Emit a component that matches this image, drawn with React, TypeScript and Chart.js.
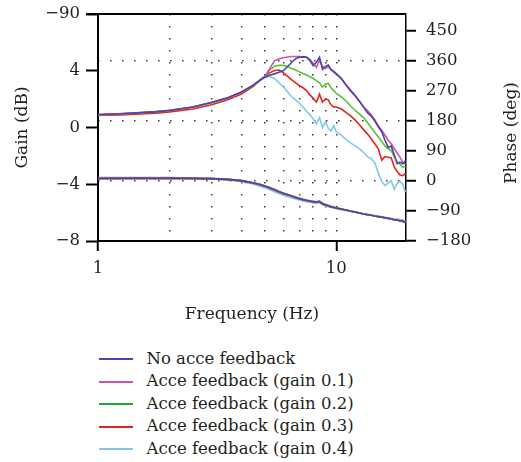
import React, { useEffect, useRef } from "react";
import { Chart, registerables } from "chart.js";

Chart.register(...registerables);

// Frequency (Hz)
const FREQ = [
  1, 1.25, 1.5, 1.75, 2, 2.5, 3, 3.5, 4, 4.5, 4.75,
  5, 5.25, 5.5, 5.75, 6, 6.25, 6.5, 6.75, 7, 7.25, 7.5, 7.75, 8, 8.25, 8.5, 8.75, 9, 9.25, 9.5, 9.75, 10,
  10.5, 11, 11.5, 12, 12.5, 13, 13.5, 14, 14.5, 15, 15.5, 16, 16.5, 17, 17.5, 18, 18.5, 19, 19.5,
];

// Gain (dB)
const GAIN_NO = [
  0.92, 0.97, 1.05, 1.1, 1.22, 1.45, 1.78, 2.1, 2.5, 3.0, 3.3,
  3.55, 3.68, 3.78, 3.9, 4.02, 4.3, 4.6, 4.85, 4.95, 4.98, 4.95, 4.7, 4.35, 4.6, 4.95, 4.1, 4.3, 4.4, 4.1, 3.95, 3.8,
  3.45, 3.0, 2.6, 2.25, 1.85, 1.45, 1.05, 0.8, 0.45, 0.05, -0.3, -0.9, -1.4, -1.3, -1.95, -2.55, -2.45, -2.55, -2.35,
];
const GAIN_01 = [
  0.9, 0.98, 1.03, 1.12, 1.2, 1.44, 1.76, 2.08, 2.48, 3.0, 3.3,
  3.55, 4.15, 4.7, 4.85, 4.92, 4.97, 5.0, 5.0, 5.0, 4.98, 4.95, 4.8, 4.5, 4.25, 4.75, 4.3, 4.15, 4.3, 4.05, 3.9, 3.75,
  3.45, 2.95, 2.55, 2.2, 1.85, 1.45, 1.2, 0.9, 0.55, 0.1, -0.2, -0.55, -0.9, -1.15, -1.5, -1.8, -2.1, -2.45, -2.6,
];
const GAIN_02 = [
  0.9, 0.96, 1.03, 1.1, 1.2, 1.43, 1.75, 2.07, 2.47, 2.98, 3.3,
  3.6, 4.05, 4.32, 4.38, 4.38, 4.3, 4.15, 4.05, 3.92, 3.8, 3.7, 3.58, 3.45, 3.3, 3.15, 2.85, 3.05, 3.1, 2.8, 2.6, 2.4,
  2.15, 1.85, 1.5, 1.2, 0.95, 0.7, 0.35, 0.0, -0.35, -0.65, -1.0, -1.3, -1.5, -1.65, -2.05, -2.45, -2.6, -2.8, -2.75,
];
const GAIN_03 = [
  0.86, 0.88, 0.95, 1.0, 1.1, 1.3, 1.6, 1.95, 2.35, 2.92, 3.3,
  3.6, 3.85, 4.02, 4.05, 3.85, 3.6, 3.35, 3.15, 2.95, 2.8, 2.6, 2.3, 2.05, 1.8, 2.35, 1.8, 2.0, 1.95, 1.6, 1.45, 1.45,
  1.3, 1.05, 0.8, 0.52, 0.2, -0.15, -0.45, -0.8, -1.15, -1.5, -2.3, -2.05, -2.1, -2.15, -2.8, -3.1, -3.35, -3.4, -3.25,
];
const GAIN_04 = [
  0.88, 0.95, 1.02, 1.1, 1.2, 1.45, 1.75, 2.08, 2.5, 3.0, 3.28,
  3.5, 3.6, 3.45, 3.15, 2.85, 2.5, 2.15, 1.95, 1.7, 1.45, 1.15, 0.9, 0.6, 0.25, 0.7, 0.0, 0.4, -0.05, -0.25, 0.15, -0.3,
  -0.55, -0.85, -1.1, -1.3, -1.5, -1.75, -2.05, -2.2, -2.5, -3.2, -3.8, -4.1, -3.9, -3.75, -4.35, -3.95, -3.8, -4.0, -4.55,
];

// Phase (deg)
const PHASE_NO = [
  8, 8, 9, 8, 9, 8, 7, 5, 1, -6, -10,
  -15, -20, -26, -32, -37, -41, -45, -49, -53, -56, -58, -60, -62, -63, -61, -68, -71, -74, -77, -79, -81,
  -84, -87, -91, -93, -96, -99, -101, -103, -105, -107, -108, -110, -112, -113, -116, -118, -119, -121, -124,
];
const PHASE_01 = [
  8, 9, 8, 9, 8, 8, 7, 5, 1, -6, -10,
  -15, -21, -27, -33, -38, -42, -46, -50, -53, -56, -59, -61, -62, -63, -62, -68, -72, -75, -77, -79, -81,
  -84, -88, -91, -93, -96, -99, -101, -103, -105, -107, -109, -110, -112, -114, -116, -118, -120, -122, -125,
];
const PHASE_02 = [
  10, 10, 10, 10, 10, 9, 8, 6, 2, -5, -9,
  -14, -19, -25, -31, -36, -40, -44, -48, -51, -54, -57, -59, -61, -62, -61, -67, -70, -73, -76, -78, -80,
  -84, -87, -90, -93, -96, -98, -100, -103, -105, -106, -108, -110, -112, -114, -116, -117, -119, -121, -123,
];
const PHASE_03 = [
  7, 7, 7, 7, 7, 7, 6, 4, 0, -7, -11,
  -16, -21, -27, -33, -38, -42, -46, -50, -53, -56, -59, -61, -63, -64, -62, -69, -72, -75, -78, -80, -82,
  -85, -88, -91, -94, -96, -99, -101, -103, -105, -107, -109, -111, -113, -114, -117, -115, -120, -120, -124,
];
const PHASE_04 = [
  8, 8, 8, 8, 8, 8, 6, 3, -2, -10, -15,
  -20, -26, -32, -38, -43, -47, -51, -54, -57, -60, -62, -64, -66, -67, -65, -71, -74, -77, -79, -81, -83,
  -86, -88, -91, -93, -96, -98, -100, -102, -104, -106, -107, -109, -111, -112, -114, -115, -116, -117, -119,
];

const SERIES_NAMES = [
  "No acce feedback",
  "Acce feedback (gain 0.1)",
  "Acce feedback (gain 0.2)",
  "Acce feedback (gain 0.3)",
  "Acce feedback (gain 0.4)",
];
const GAIN_SERIES = [GAIN_NO, GAIN_01, GAIN_02, GAIN_03, GAIN_04];
const PHASE_SERIES = [PHASE_NO, PHASE_01, PHASE_02, PHASE_03, PHASE_04];

const GAIN_TICKS = [-8, -4, 0, 4, 8];
const GAIN_TICK_LABELS = ["\u22128", "\u22124", "0", "4", "\u221290"];
const PHASE_TICKS = [-180, -90, 0, 90, 180, 270, 360, 450];
const PHASE_TICK_LABELS = ["\u2212180", "\u221290", "0", "90", "180", "270", "360", "450"];
const PHASE_GRID = [0, 180, 360];
const FREQ_TICKS = [1, 2, 3, 4, 5, 6, 7, 8, 9, 10];
const FREQ_TICK_LABELS = ["1", "", "", "", "", "", "", "", "", "10"];
const FREQ_LABELED = [1, 10];

// Styles
const COLORS = ["#4b45a3", "#d450ad", "#5cbf3c", "#e2251d", "#7fcbe8"];
const LEGEND_COLORS = ["#4b45a3", "#d450ad", "#1fa83a", "#d8291f", "#86c3e4"];
const FAMILY = "'DejaVu Serif', serif";
const FSIZE = 16.5;
const TITLE_SIZE = 17;
const TEXT = "#231f20";
const DOT = "#3a3a3a";
const W = 521;
const CH = 335;

export default function App() {
  const ref = useRef<HTMLCanvasElement | null>(null);

  useEffect(() => {
    const canvas = ref.current;
    if (!canvas) return;
    const font = { family: FAMILY, size: FSIZE };
    const titleFont = { family: FAMILY, size: TITLE_SIZE };

    const datasets: any[] = [];
    GAIN_SERIES.forEach((vals, i) => {
      datasets.push({
        label: SERIES_NAMES[i],
        data: FREQ.map((f, k) => ({ x: f, y: vals[k] })),
        yAxisID: "y",
        borderColor: COLORS[i],
        backgroundColor: COLORS[i],
      });
    });
    PHASE_SERIES.forEach((vals, i) => {
      datasets.push({
        label: SERIES_NAMES[i] + " phase",
        data: FREQ.map((f, k) => ({ x: f, y: vals[k] })),
        yAxisID: "y2",
        borderColor: COLORS[i],
        backgroundColor: COLORS[i],
      });
    });

    const frame = {
      id: "frame",
      afterDraw(chart: any) {
        const { ctx, chartArea: a } = chart;
        ctx.save();
        ctx.strokeStyle = "#000";
        ctx.lineWidth = 2;
        ctx.beginPath();
        ctx.moveTo(a.left - 12, a.top);
        ctx.lineTo(a.right, a.top);
        ctx.stroke();
        ctx.font = `${TITLE_SIZE}px ${FAMILY}`;
        ctx.fillStyle = TEXT;
        ctx.textAlign = "center";
        ctx.textBaseline = "middle";
        ctx.translate(512, 133);
        ctx.rotate(-Math.PI / 2);
        ctx.fillText("Phase (deg)", 0, 0);
        ctx.restore();
      },
    };

    const noPad = (s: any) => {
      s.paddingTop = 0;
      s.paddingBottom = 0;
    };

    const chart = new Chart(canvas, {
      type: "line",
      data: { datasets },
      options: {
        animation: false,
        responsive: false,
        maintainAspectRatio: false,
        layout: { padding: { top: 14, left: 0, right: 0, bottom: 0 } },
        plugins: { legend: { display: false }, tooltip: { enabled: false } },
        elements: { point: { radius: 0 }, line: { borderWidth: 1.6, tension: 0 } },
        scales: {
          x: {
            type: "logarithmic",
            position: "bottom",
            min: 1,
            max: 19.6,
            afterBuildTicks: (s: any) => {
              s.ticks = FREQ_TICKS.map((v) => ({ value: v }));
            },
            afterFit: (s: any) => {
              s.height = CH - 241;
            },
            ticks: {
              autoSkip: false,
              maxRotation: 0,
              padding: 8,
              font,
              color: TEXT,
              callback: (_v: any, i: number) => FREQ_TICK_LABELS[i],
            },
            grid: {
              color: (c: any) => (c.tick && c.tick.value > 1 ? DOT : "transparent"),
              lineWidth: 1.5,
              drawTicks: true,
              tickLength: 10,
              tickWidth: 2,
              tickColor: (c: any) => (c.tick && FREQ_LABELED.includes(c.tick.value) ? "#000" : "transparent"),
              tickBorderDash: [],
            },
            border: { display: true, color: "#000", width: 2, dash: [1.5, 10.5] },
            title: {
              display: true,
              text: "Frequency (Hz)",
              font: titleFont,
              color: TEXT,
              padding: { top: 0, bottom: 10 },
            },
          },
          y: {
            type: "linear",
            position: "left",
            min: -8,
            max: 8,
            afterBuildTicks: (s: any) => {
              s.ticks = GAIN_TICKS.map((v) => ({ value: v }));
            },
            afterFit: (s: any) => {
              s.width = 98;
              noPad(s);
            },
            ticks: {
              padding: 6,
              font,
              color: TEXT,
              callback: (_v: any, i: number) => GAIN_TICK_LABELS[i],
            },
            grid: {
              drawOnChartArea: false,
              drawTicks: true,
              tickLength: 12,
              tickWidth: 2,
              tickColor: "#000",
              tickBorderDash: [],
            },
            border: { display: true, color: "#000", width: 2 },
            title: {
              display: true,
              text: "Gain (dB)",
              font: titleFont,
              color: TEXT,
              padding: { top: 12, bottom: 0 },
            },
          },
          y2: {
            type: "linear",
            position: "right",
            min: -180,
            max: 501,
            afterBuildTicks: (s: any) => {
              s.ticks = PHASE_TICKS.map((v) => ({ value: v }));
            },
            afterFit: (s: any) => {
              s.width = W - 406;
              noPad(s);
            },
            ticks: {
              padding: 10,
              font,
              color: TEXT,
              callback: (_v: any, i: number) => PHASE_TICK_LABELS[i],
            },
            grid: {
              drawOnChartArea: true,
              color: (c: any) => (c.tick && PHASE_GRID.includes(c.tick.value) ? DOT : "transparent"),
              lineWidth: 1.5,
              drawTicks: true,
              tickLength: 10,
              tickWidth: 2,
              tickColor: "#000",
              tickBorderDash: [],
            },
            border: { display: true, color: "#000", width: 1.5, dash: [1.5, 10.5] },
          },
        },
      },
      plugins: [frame],
    } as any);

    return () => chart.destroy();
  }, []);

  return (
    <div style={{ position: "absolute", left: 0, top: 0, width: W, height: 462, background: "#fff" }}>
      <canvas ref={ref} width={W} height={CH} style={{ display: "block", width: W, height: CH }} />
      <div
        style={{
          position: "absolute",
          left: 99,
          top: 347.75,
          fontFamily: FAMILY,
          fontSize: FSIZE,
          color: TEXT,
        }}
      >
        {SERIES_NAMES.map((name, i) => (
          <div key={name} style={{ display: "flex", alignItems: "center", height: 22.5, lineHeight: "22.5px", whiteSpace: "nowrap" }}>
            <span style={{ display: "inline-block", width: 34, height: 2, background: LEGEND_COLORS[i], marginRight: 13.5 }} />
            <span>{name}</span>
          </div>
        ))}
      </div>
    </div>
  );
}
